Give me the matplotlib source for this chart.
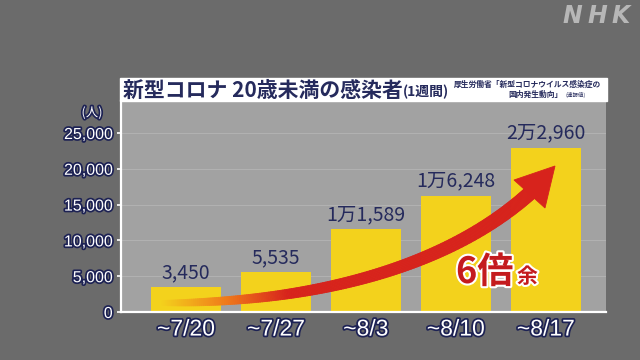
import numpy as np
import matplotlib.pyplot as plt
from matplotlib import patheffects as pe
from matplotlib.collections import PolyCollection
from matplotlib.patches import Rectangle, Polygon
from matplotlib.colors import to_rgb

### data
weeks = ["~7/20", "~7/27", "~8/3", "~8/10", "~8/17"]
cases = [3450, 5535, 11589, 16248, 22960]
case_labels = ["3,450", "5,535", "1万1,589", "1万6,248", "2万2,960"]
yticks = [0, 5000, 10000, 15000, 20000, 25000]
ytick_labels = ["0", "5,000", "10,000", "15,000", "20,000", "25,000"]

CJK = ['Noto Sans CJK JP', 'DejaVu Sans']
NARROW = ['Liberation Sans', 'DejaVu Sans']
NAVY = '#252a5c'
outline = [pe.withStroke(linewidth=2.5, foreground='#1d2254')]

fig = plt.figure(figsize=(6.4, 3.6), dpi=100, facecolor='#6b6b6b')

# main bar chart
ax = fig.add_axes([121/640, 48/360, 485/640, 211/360], zorder=1)
ax.set_facecolor('#a2a2a2')
x = np.arange(len(weeks))
ax.bar(x, cases, width=0.78, color='#f3d21c', zorder=2)
ax.set_xlim(-0.72, 4.67)
ax.set_ylim(0, 29470)
for v in yticks[1:]:
    ax.axhline(v, color='#b1b1b1', lw=0.8, zorder=1)
for s in ['top', 'right']:
    ax.spines[s].set_visible(False)
for s in ['left', 'bottom']:
    ax.spines[s].set_color('white')
    ax.spines[s].set_linewidth(1.6)

ax.set_yticks(yticks, ytick_labels)
ax.set_xticks(x, weeks)
ax.tick_params(axis='y', colors='white', length=3, width=1.2, pad=3, labelsize=11.5)
ax.tick_params(axis='x', length=0, pad=4, labelsize=16.5, labelcolor='white')
for lab in ax.get_yticklabels() + ax.get_xticklabels():
    lab.set_fontfamily(NARROW)
    lab.set_path_effects(outline)

for xi, v, lab in zip(x, cases, case_labels):
    ax.annotate(lab, (xi, v), xytext=(0, 3), textcoords='offset points',
                ha='center', va='bottom', fontsize=14, color=NAVY, family=CJK)

# overlay in pixel coordinates for title, arrow, logo
ov = fig.add_axes([0, 0, 1, 1], zorder=5)
ov.set_xlim(0, 640)
ov.set_ylim(360, 0)
ov.axis('off')
ov.patch.set_alpha(0)

ov.add_patch(Rectangle((120, 78), 487, 23, color='white'))
t = ov.text(123, 90, "新型コロナ 20歳未満の感染者", fontsize=15, fontweight='bold',
            color=NAVY, family=CJK, va='center', ha='left')
ov.annotate("(1週間)", xy=(1, 0.42), xycoords=t, fontsize=10, fontweight='bold',
            color=NAVY, family=CJK, va='center', ha='left')
ov.text(601, 84, "厚生労働省「新型コロナウイルス感染症の", fontsize=5.6, color=NAVY,
        family=CJK, va='center', ha='right', fontweight='bold')
ov.text(563, 94.5, "国内発生動向」", fontsize=5.6, color=NAVY,
        family=CJK, va='center', ha='right', fontweight='bold')
ov.text(565, 95, "(速報値)", fontsize=4, color=NAVY,
        family=CJK, va='center', ha='left')

ov.text(92, 113, "(人)", fontsize=9, color='white', family=CJK,
        ha='center', va='center', path_effects=outline)

# curved arrow, yellow -> red tail
P = np.array([[160, 303], [320, 303], [450, 265], [530, 193]], float)
tt = np.linspace(0, 1, 240)
pts = ((1-tt)**3)[:, None]*P[0] + (3*tt*(1-tt)**2)[:, None]*P[1] \
    + (3*tt**2*(1-tt))[:, None]*P[2] + (tt**3)[:, None]*P[3]
d = np.gradient(pts, axis=0)
nrm = np.stack([-d[:, 1], d[:, 0]], axis=1)
nrm /= np.linalg.norm(nrm, axis=1)[:, None]
w = 1.8 + 5.2*tt**0.45
left = pts + nrm*w[:, None]
right = pts - nrm*w[:, None]
yellow = np.array(to_rgb('#f3d21c'))
orange = np.array(to_rgb('#f07a1a'))
red = np.array(to_rgb('#d7231c'))
polys, cols = [], []
for i in range(len(tt)-1):
    polys.append([left[i], left[i+1], right[i+1], right[i]])
    f = tt[i] / 0.28
    if f < 0.5:
        c = yellow + (orange - yellow)*(f/0.5)
    elif f < 1:
        c = orange + (red - orange)*((f-0.5)/0.5)
    else:
        c = red
    cols.append(c)
ov.add_collection(PolyCollection(polys, facecolors=cols, edgecolors=cols, linewidths=0.6))
ov.add_patch(Polygon([[514, 180], [555, 166], [545, 208]], closed=True,
                     facecolor=red, edgecolor=red, lw=0.6))

# 6倍余
ov.text(456, 283, "6倍", fontsize=26, fontweight='bold', color='#c41b1e', family=CJK,
        ha='left', va='baseline', path_effects=[pe.withStroke(linewidth=3, foreground='white')])
ov.text(517, 283, "余", fontsize=15, fontweight='bold', color='#c41b1e', family=CJK,
        ha='left', va='baseline', path_effects=[pe.withStroke(linewidth=3, foreground='white')])

# logo
for ch, cx in zip("NHK", [572, 597, 621]):
    ov.text(cx, 16, ch, fontsize=17, fontweight='heavy', style='italic',
            color='#b7b7b7', ha='center', va='center', family=['DejaVu Sans'])

fig.savefig('out.png', dpi=100, facecolor=fig.get_facecolor())
